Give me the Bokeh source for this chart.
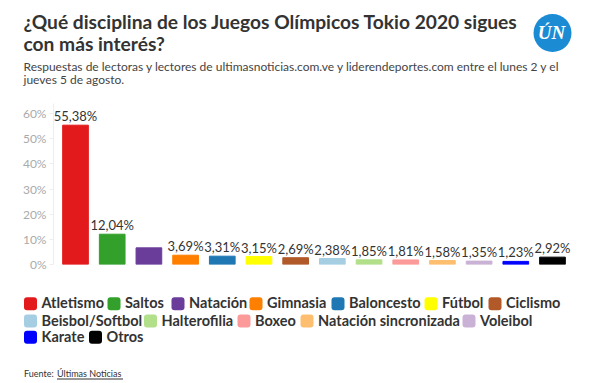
from bokeh.plotting import figure
from bokeh.layouts import column
from bokeh.models import (FactorRange, Range1d, FixedTicker, ColumnDataSource, LabelSet,
                          CustomJSTickFormatter)
from bokeh.core.properties import value
from bokeh.embed import file_html
from bokeh.resources import INLINE

categories = ["Atletismo", "Saltos", "Natación", "Gimnasia", "Baloncesto", "Fútbol",
              "Ciclismo", "Beisbol/Softbol", "Halterofilia", "Boxeo",
              "Natación sincronizada", "Voleibol", "Karate", "Otros"]
values = [55.38, 12.04, 6.62, 3.69, 3.31, 3.15, 2.69, 2.38, 1.85, 1.81, 1.58, 1.35, 1.23, 2.92]
colors = ["#e31a1c", "#33a02c", "#6a3d9a", "#ff7f00", "#1f78b4", "#ffff00", "#b15928",
          "#a6cee3", "#b2df8a", "#fb9a99", "#fdbf6f", "#cab2d6", "#0000ff", "#000000"]
value_labels = ["55,38%", "12,04%", "", "3,69%", "3,31%", "3,15%", "2,69%", "2,38%",
                "1,85%", "1,81%", "1,58%", "1,35%", "1,23%", "2,92%"]
y_ticks = [0, 10, 20, 30, 40, 50, 60]

FONT = "Lato"
W = 590


class Canvas:
    """A figure whose data coordinates equal page pixels (y measured from page top)."""

    def __init__(self, y0, h):
        self.y0, self.h = y0, h
        f = figure(width=W, height=h, output_backend="svg", toolbar_location=None,
                   x_range=Range1d(0, W), y_range=Range1d(0, h),
                   min_border=0, min_border_left=0, min_border_right=0,
                   min_border_top=0, min_border_bottom=0, frame_align=False)
        f.axis.visible = False
        f.grid.visible = False
        f.outline_line_color = None
        self.f = f

    def y(self, py):
        return self.h - (py - self.y0)

    def txt(self, x, py, t, size, bold=False, color="#333333", align="left", font=FONT,
            style=None):
        st = style or ("bold" if bold else "normal")
        self.f.text(x=[x], y=[self.y(py)], text=[t], text_font=value(font),
                    text_font_size=f"{size}px", text_font_style=st, text_color=color,
                    text_align=align, text_baseline="middle")


# ---------- header ----------
TOP_H = 92
top = Canvas(0, TOP_H)
top.txt(23, 21, "¿Qué disciplina de los Juegos Olímpicos Tokio 2020 sigues", 19.2, True)
top.txt(23, 42.5, "con más interés?", 19.2, True)
top.txt(23, 66, "Respuestas de lectoras y lectores de ultimasnoticias.com.ve y liderendeportes.com entre el lunes 2 y el", 12, color="#444444")
top.txt(23, 78.5, "jueves 5 de agosto.", 12, color="#444444")
top.f.circle(x=[552], y=[top.y(32.5)], radius=19, fill_color="#1b8bd4", line_color=None)
top.txt(551, 31.5, "ÚN", 19, color="#ffffff", align="center", font="Liberation Serif",
        style="bold italic")

# ---------- chart ----------
MID_H = 193
mid = figure(width=W, height=MID_H, output_backend="svg", toolbar_location=None,
             x_range=FactorRange(*categories, range_padding=0.1,
                                 range_padding_units="absolute"),
             y_range=Range1d(0, 64),
             min_border_left=53, min_border_right=16, min_border_top=11,
             min_border_bottom=21, frame_align=False)
mid.outline_line_color = None
mid.xgrid.grid_line_color = None
mid.ygrid.grid_line_color = None
mid.xaxis.visible = False
mid.yaxis.ticker = FixedTicker(ticks=y_ticks)
mid.yaxis.formatter = CustomJSTickFormatter(code="return tick + '%';")
mid.yaxis.axis_line_color = "#eeeeee"
mid.yaxis.major_tick_line_color = "#eeeeee"
mid.yaxis.minor_tick_line_color = None
mid.yaxis.major_tick_out = 4
mid.yaxis.major_tick_in = 0
mid.yaxis.major_label_standoff = 3
mid.yaxis.major_label_text_color = "#aaaaaa"
mid.yaxis.major_label_text_font = FONT
mid.yaxis.major_label_text_font_size = "12px"

src = ColumnDataSource(dict(cat=categories, val=values, col=colors, lab=value_labels))
mid.vbar(x="cat", top="val", width=0.7, color="col", source=src)
mid.add_layout(LabelSet(x="cat", y="val", text="lab", source=src, text_align="center",
                        text_baseline="bottom", y_offset=1, text_font=value(FONT),
                        text_font_size=value("13px"), text_color="#333333"))

# ---------- legend & source ----------
BOT_Y0 = TOP_H + MID_H
bot = Canvas(BOT_Y0, 383 - BOT_Y0)

legend_rows = [
    (303.3, [(0, 23.5), (1, 107), (2, 171), (3, 249), (4, 331), (5, 424), (6, 488)]),
    (320.5, [(7, 23.5), (8, 143.5), (9, 237), (10, 300), (11, 462)]),
    (336.7, [(12, 23.5), (13, 88.5)]),
]
for yc, items in legend_rows:
    for idx, x0 in items:
        bot.f.quad(left=[x0], right=[x0 + 13], top=[bot.y(yc - 6.5)],
                   bottom=[bot.y(yc + 6.5)], fill_color=colors[idx], line_color=None,
                   border_radius=3)
        bot.txt(x0 + 17.5, yc - 1, categories[idx], 14.5, True)

bot.txt(23.5, 373, "Fuente: ", 9)
bot.txt(56.5, 373, "Últimas Noticias", 9)
bot.f.segment(x0=[56.5], x1=[122.5], y0=[bot.y(378.5)], y1=[bot.y(378.5)],
              line_color="#333333", line_width=1)

layout = column(top.f, mid, bot.f, spacing=0)
open("out.html", "w").write(file_html(layout, INLINE))
